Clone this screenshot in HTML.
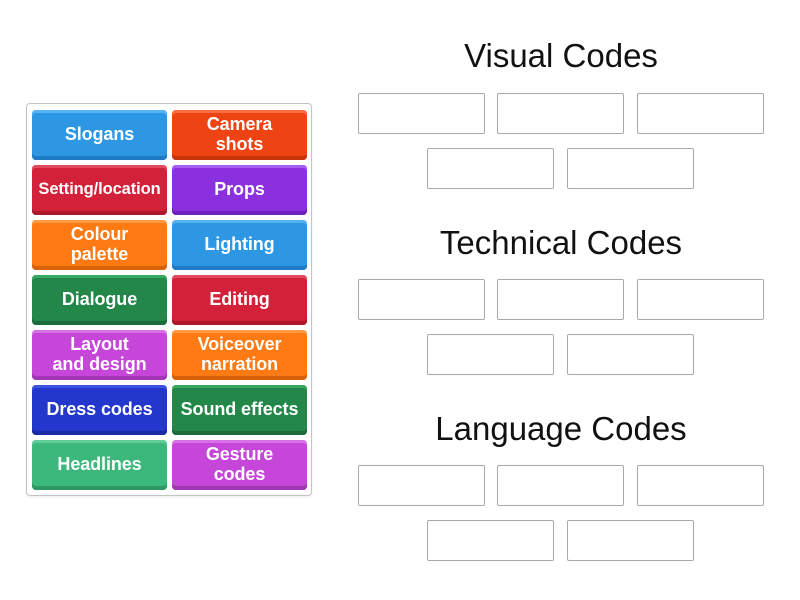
<!DOCTYPE html>
<html>
<head>
<meta charset="utf-8">
<style>
  html, body { margin:0; padding:0; width:800px; height:600px; background:#fff; overflow:hidden; }
  body { position:relative; font-family:"Liberation Sans", sans-serif; }
  .panel { position:absolute; left:26px; top:103px; width:284px; height:391px; border:1px solid #c4c4c4; border-radius:4px; box-shadow:0 1px 2px rgba(0,0,0,0.08); }
  .tile { position:absolute; width:135px; height:50px; border-radius:4px; color:#fff; font-weight:bold; font-size:18px; line-height:20px; display:flex; align-items:center; justify-content:center; text-align:center; box-sizing:border-box; padding-bottom:2px; white-space:nowrap; letter-spacing:-0.1px; }
  .c1 { left:32px; } .c2 { left:172px; }
  .blue   { background:#2e97e4; box-shadow: inset 0 3px 0 #55b3f1, inset 0 -4px 0 #1f7cc4; }
  .red    { background:#ee4413; box-shadow: inset 0 3px 0 #f86e40, inset 0 -4px 0 #c4350c; }
  .crim   { background:#d4213a; box-shadow: inset 0 3px 0 #e24b5e, inset 0 -4px 0 #ad182d; }
  .purp   { background:#8a30df; box-shadow: inset 0 3px 0 #a45ef0, inset 0 -4px 0 #6e22bd; }
  .orng   { background:#ff7a12; box-shadow: inset 0 3px 0 #ff9b44, inset 0 -4px 0 #d8620a; }
  .green  { background:#23874a; box-shadow: inset 0 3px 0 #39a863, inset 0 -4px 0 #1a6d3b; }
  .orch   { background:#c546d8; box-shadow: inset 0 3px 0 #d772e6, inset 0 -4px 0 #a236b4; }
  .dblue  { background:#2337cd; box-shadow: inset 0 3px 0 #3c54e2, inset 0 -4px 0 #1a2aa7; }
  .teal   { background:#3cb87d; box-shadow: inset 0 3px 0 #5fcd98, inset 0 -4px 0 #2e9966; }
  .title { position:absolute; left:350px; width:422px; text-align:center; font-size:33px; line-height:33px; color:#111; }
  .box { position:absolute; width:127px; height:41px; box-sizing:border-box; border:1px solid #a9a9a9; border-radius:2px; background:#fff; }
</style>
</head>
<body>
  <div class="panel"></div>

  <div class="tile c1 blue" style="top:110px;">Slogans</div>
  <div class="tile c2 red" style="top:110px;">Camera<br>shots</div>

  <div class="tile c1 crim" style="top:165px; font-size:16.5px;">Setting/location</div>
  <div class="tile c2 purp" style="top:165px;">Props</div>

  <div class="tile c1 orng" style="top:220px;">Colour<br>palette</div>
  <div class="tile c2 blue" style="top:220px;">Lighting</div>

  <div class="tile c1 green" style="top:275px;">Dialogue</div>
  <div class="tile c2 crim" style="top:275px;">Editing</div>

  <div class="tile c1 orch" style="top:330px;">Layout<br>and design</div>
  <div class="tile c2 orng" style="top:330px;">Voiceover<br>narration</div>

  <div class="tile c1 dblue" style="top:385px;">Dress codes</div>
  <div class="tile c2 green" style="top:385px;">Sound effects</div>

  <div class="tile c1 teal" style="top:440px;">Headlines</div>
  <div class="tile c2 orch" style="top:440px;">Gesture<br>codes</div>

  <div class="title" style="top:39px;">Visual Codes</div>
  <div class="box" style="left:358px; top:93px;"></div>
  <div class="box" style="left:497px; top:93px;"></div>
  <div class="box" style="left:637px; top:93px;"></div>
  <div class="box" style="left:427px; top:148px;"></div>
  <div class="box" style="left:567px; top:148px;"></div>

  <div class="title" style="top:226px;">Technical Codes</div>
  <div class="box" style="left:358px; top:279px;"></div>
  <div class="box" style="left:497px; top:279px;"></div>
  <div class="box" style="left:637px; top:279px;"></div>
  <div class="box" style="left:427px; top:334px;"></div>
  <div class="box" style="left:567px; top:334px;"></div>

  <div class="title" style="top:412px;">Language Codes</div>
  <div class="box" style="left:358px; top:465px;"></div>
  <div class="box" style="left:497px; top:465px;"></div>
  <div class="box" style="left:637px; top:465px;"></div>
  <div class="box" style="left:427px; top:520px;"></div>
  <div class="box" style="left:567px; top:520px;"></div>
</body>
</html>
